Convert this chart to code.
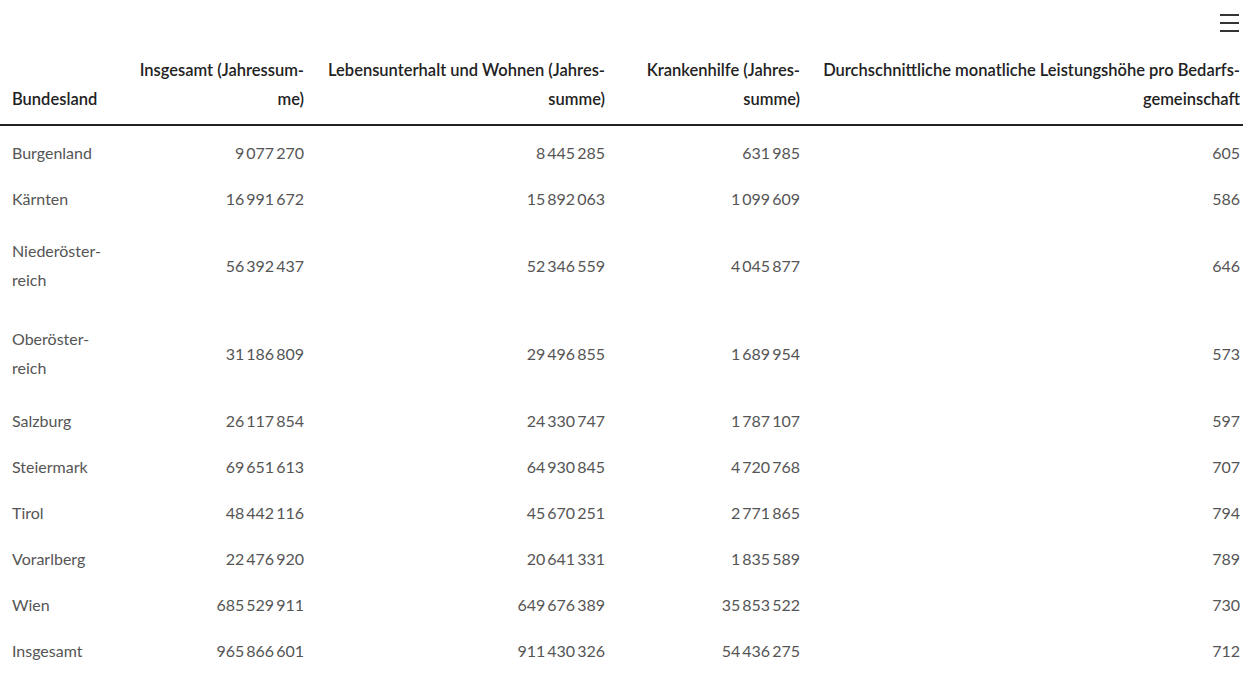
import React from 'react'

// Spaltenköpfe (Zeilenumbrüche wie im Original)
const headers: string[][] = [
  ['Bundesland'],
  ['Insgesamt (Jahressum-', 'me)'],
  ['Lebensunterhalt und Wohnen (Jahres-', 'summe)'],
  ['Krankenhilfe (Jahres-', 'summe)'],
  ['Durchschnittliche monatliche Leistungshöhe pro Bedarfs-', 'gemeinschaft'],
]

const bundeslaender: string[][] = [
  ['Burgenland'],
  ['Kärnten'],
  ['Niederöster-', 'reich'],
  ['Oberöster-', 'reich'],
  ['Salzburg'],
  ['Steiermark'],
  ['Tirol'],
  ['Vorarlberg'],
  ['Wien'],
  ['Insgesamt'],
]

const insgesamt = [9077270, 16991672, 56392437, 31186809, 26117854, 69651613, 48442116, 22476920, 685529911, 965866601]
const lebensunterhalt = [8445285, 15892063, 52346559, 29496855, 24330747, 64930845, 45670251, 20641331, 649676389, 911430326]
const krankenhilfe = [631985, 1099609, 4045877, 1689954, 1787107, 4720768, 2771865, 1835589, 35853522, 54436275]
const leistungshoehe = [605, 586, 646, 573, 597, 707, 794, 789, 730, 712]

const colWidths = [110, 200, 301, 195, 437]
const FONT = 'Lato, "Source Sans Pro", "Open Sans", sans-serif'

const fmt = (n: number) => String(n).replace(/\B(?=(\d{3})+(?!\d))/g, '\u2009')

function Lines({ lines }: { lines: string[] }) {
  return (
    <>
      {lines.map((l, i) => (
        <div key={i} style={{ whiteSpace: 'nowrap' }}>{l}</div>
      ))}
    </>
  )
}

export default function App() {
  const rows = bundeslaender.map((name, i) => [
    name,
    fmt(insgesamt[i]),
    fmt(lebensunterhalt[i]),
    fmt(krankenhilfe[i]),
    fmt(leistungshoehe[i]),
  ])

  const cellPad = (c: number) => ({
    paddingLeft: c === 0 ? 12 : 0,
    paddingRight: c === 0 ? 0 : c === 4 ? 3 : 6,
    textAlign: (c === 0 ? 'left' : 'right') as 'left' | 'right',
  })

  return (
    <div
      style={{
        position: 'absolute',
        left: 0,
        top: 0,
        width: 1243,
        height: 682,
        background: '#fff',
        fontFamily: FONT,
        overflow: 'hidden',
      }}
    >
      {/* Menü-Symbol */}
      <div style={{ position: 'absolute', left: 1220, top: 14, width: 19 }}>
        {[0, 1, 2].map((i) => (
          <div key={i} style={{ height: 2, background: '#333', marginBottom: 6 }} />
        ))}
      </div>

      <table
        style={{
          position: 'absolute',
          left: 0,
          top: 56,
          width: 1243,
          borderCollapse: 'collapse',
          tableLayout: 'fixed',
        }}
      >
        <colgroup>
          {colWidths.map((w, i) => (
            <col key={i} style={{ width: w }} />
          ))}
        </colgroup>
        <thead>
          <tr style={{ borderBottom: '2px solid #222' }}>
            {headers.map((h, c) => (
              <th
                key={c}
                style={{
                  ...cellPad(c),
                  fontSize: 16.5,
                  fontWeight: 600,
                  color: '#222',
                  lineHeight: '29px',
                  verticalAlign: 'bottom',
                  paddingBottom: 10,
                  paddingTop: 0,
                }}
              >
                <Lines lines={h} />
              </th>
            ))}
          </tr>
        </thead>
        <tbody>
          {rows.map((r, i) => {
            const twoLines = r[0].length > 1
            const h = twoLines ? 88 : 46
            return (
              <tr key={i} style={{ height: i === 0 ? h + 4 : h }}>
                {r.map((v, c) => (
                  <td
                    key={c}
                    style={{
                      ...cellPad(c),
                      fontSize: 16,
                      color: '#555',
                      lineHeight: '29px',
                      paddingTop: i === 0 ? 4 : 0,
                      paddingBottom: 0,
                      verticalAlign: 'middle',
                    }}
                  >
                    {Array.isArray(v) ? <Lines lines={v} /> : v}
                  </td>
                ))}
              </tr>
            )
          })}
        </tbody>
      </table>
    </div>
  )
}
